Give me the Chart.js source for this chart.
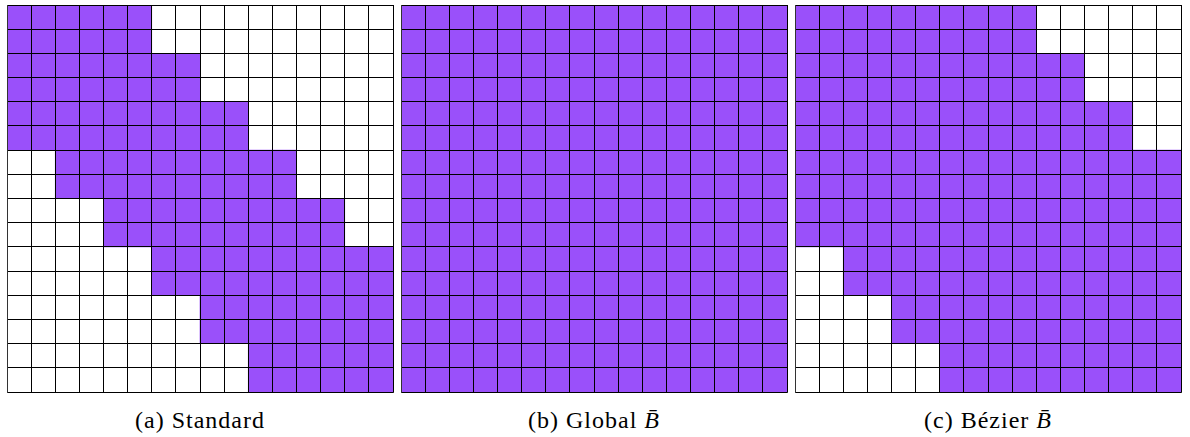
<!DOCTYPE html>
<html>
<head>
<meta charset="utf-8">
<script src="https://cdn.jsdelivr.net/npm/chart.js@4.4.1/dist/chart.umd.min.js"></script>
<style>
  body { margin: 0; background: #fff; width: 1190px; height: 437px; position: relative; overflow: hidden; }
  canvas { position: absolute; top: 4px; }
  .caption {
    position: absolute; top: 408px; width: 388px; text-align: center;
    font-family: "Liberation Serif", serif; font-size: 24px; line-height: 24px;
    letter-spacing: 1px; color: #000;
  }
</style>
</head>
<body>
<canvas id="standard" width="388" height="389" style="left:6px"></canvas>
<canvas id="global" width="388" height="389" style="left:400px"></canvas>
<canvas id="bezier" width="388" height="389" style="left:794px"></canvas>
<div class="caption" style="left:6px">(a) Standard</div>
<div class="caption" style="left:400px">(b) Global <i>B̄</i></div>
<div class="caption" style="left:794px">(c) Bézier <i>B̄</i></div>
<script>
// 16x16 sparsity pattern, row by row: filled columns [start, end)
const rows = ['1', '2', '3', '4', '5', '6', '7', '8', '9', '10', '11', '12', '13', '14', '15', '16'];
const columnCount = 16;

const standardStart = [0, 0, 0, 0, 0, 0, 2, 2, 4, 4, 6, 6, 8, 8, 10, 10];
const standardEnd = [6, 6, 8, 8, 10, 10, 12, 12, 14, 14, 16, 16, 16, 16, 16, 16];

const globalStart = [0, 0, 0, 0, 0, 0, 0, 0, 0, 0, 0, 0, 0, 0, 0, 0];
const globalEnd = [16, 16, 16, 16, 16, 16, 16, 16, 16, 16, 16, 16, 16, 16, 16, 16];

const bezierStart = [0, 0, 0, 0, 0, 0, 0, 0, 0, 0, 2, 2, 4, 4, 6, 6];
const bezierEnd = [10, 10, 12, 12, 14, 14, 16, 16, 16, 16, 16, 16, 16, 16, 16, 16];

const fillColor = '#9a50fa';

function drawPattern(id, starts, ends) {
  const ctx = document.getElementById(id).getContext('2d');
  return new Chart(ctx, {
    type: 'bar',
    data: {
      labels: rows,
      datasets: [{
        data: starts.map((s, i) => [s, ends[i]]),
        backgroundColor: fillColor,
        borderWidth: 0,
        barPercentage: 1,
        categoryPercentage: 1,
      }],
    },
    options: {
      indexAxis: 'y',
      responsive: false,
      animation: false,
      devicePixelRatio: 1,
      layout: { padding: 1 },
      plugins: { legend: { display: false }, tooltip: { enabled: false } },
      scales: {
        x: {
          type: 'linear',
          min: 0,
          max: columnCount,
          ticks: { display: false, stepSize: 1, maxTicksLimit: 20 },
          // grid drawn over the bars so every cell keeps its outline
          grid: { z: 1, color: '#000', lineWidth: 1, drawTicks: false, tickLength: 0 },
          border: { z: 1, display: true, color: '#333', width: 1 },
        },
        y: {
          offset: true,
          ticks: { display: false, autoSkip: false },
          grid: { z: 1, offset: true, color: '#000', lineWidth: 1, drawTicks: false, tickLength: 0 },
          border: { z: 1, display: true, color: '#333', width: 1 },
        },
      },
    },
  });
}

drawPattern('standard', standardStart, standardEnd);
drawPattern('global', globalStart, globalEnd);
drawPattern('bezier', bezierStart, bezierEnd);
</script>
</body>
</html>
